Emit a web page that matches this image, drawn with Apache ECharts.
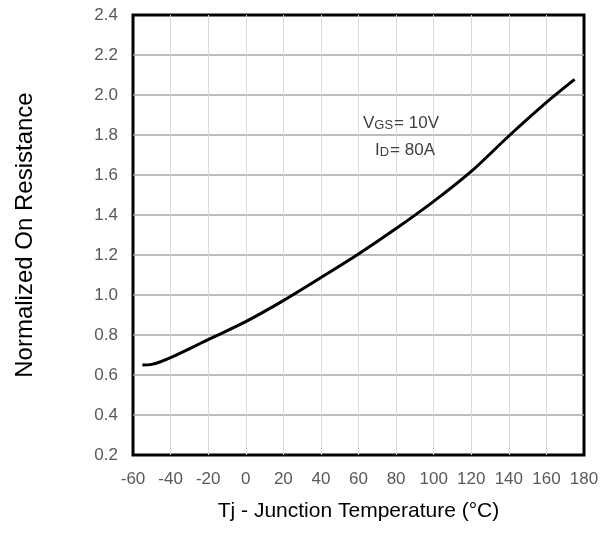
<!DOCTYPE html>
<html>
<head>
<meta charset="utf-8">
<script src="https://cdn.jsdelivr.net/npm/echarts@6/dist/echarts.min.js"></script>
<style>
  html, body { margin: 0; padding: 0; background: #fff; }
  #chart { width: 613px; height: 533px; }
</style>
</head>
<body>
<div id="chart"></div>
<script>
// Tj (°C) vs normalized RDS(on)
const tempC = [-55, -50, -40, -20, 0, 20, 40, 60, 80, 100, 120, 140, 160, 175];
const rdsNorm = [0.65, 0.653, 0.687, 0.777, 0.867, 0.972, 1.087, 1.205, 1.332, 1.468, 1.618, 1.795, 1.963, 2.078];

const chart = echarts.init(document.getElementById("chart"), null, { renderer: "canvas" });

const font = "'Liberation Sans', Arial, sans-serif";
const annoColor = "#404040";

chart.setOption({
  animation: false,
  backgroundColor: "#fff",
  textStyle: { fontFamily: font },
  grid: {
    left: 133,
    right: 29,
    top: 15,
    bottom: 78,
    show: true,
    borderColor: "#000",
    borderWidth: 3,
    backgroundColor: "transparent"
  },
  xAxis: {
    type: "value",
    min: -60,
    max: 180,
    interval: 20,
    name: "Tj - Junction Temperature (°C)",
    nameLocation: "middle",
    nameGap: 46,
    nameTextStyle: { color: "#000", fontSize: 21, fontFamily: font },
    axisLine: { show: false },
    axisTick: { show: false },
    axisLabel: { color: "#595959", fontSize: 17, margin: 16, fontFamily: font },
    splitLine: {
      show: true,
      showMinLine: false,
      showMaxLine: false,
      lineStyle: { color: "#d9d9d9", width: 1 }
    }
  },
  yAxis: {
    type: "value",
    min: 0.2,
    max: 2.4,
    interval: 0.2,
    name: "Normalized On Resistance",
    nameLocation: "middle",
    nameGap: 96,
    nameTextStyle: { color: "#000", fontSize: 24, fontFamily: font },
    axisLine: { show: false },
    axisTick: { show: false },
    axisLabel: {
      color: "#595959",
      fontSize: 17,
      margin: 15,
      fontFamily: font,
      formatter: (v) => v.toFixed(1)
    },
    splitLine: {
      show: true,
      showMinLine: false,
      showMaxLine: false,
      lineStyle: { color: "#a6a6a6", width: 1.5 }
    }
  },
  graphic: [
    {
      type: "text",
      left: 363,
      top: 115,
      z: 10,
      style: {
        text: "{b|V}{s|GS}{b|= 10V}",
        rich: {
          b: { fontSize: 17, fill: annoColor, fontFamily: font },
          s: { fontSize: 13, fill: annoColor, fontFamily: font, padding: [3, 1, 0, 0] }
        }
      }
    },
    {
      type: "text",
      left: 375,
      top: 142,
      z: 10,
      style: {
        text: "{b|I}{s|D}{b|= 80A}",
        rich: {
          b: { fontSize: 17, fill: annoColor, fontFamily: font },
          s: { fontSize: 13, fill: annoColor, fontFamily: font, padding: [3, 1, 0, 0] }
        }
      }
    }
  ],
  series: [
    {
      type: "line",
      data: tempC.map((t, i) => [t, rdsNorm[i]]),
      smooth: 0.3,
      showSymbol: false,
      lineStyle: { color: "#000", width: 3 },
      z: 5
    }
  ]
});
</script>
</body>
</html>
